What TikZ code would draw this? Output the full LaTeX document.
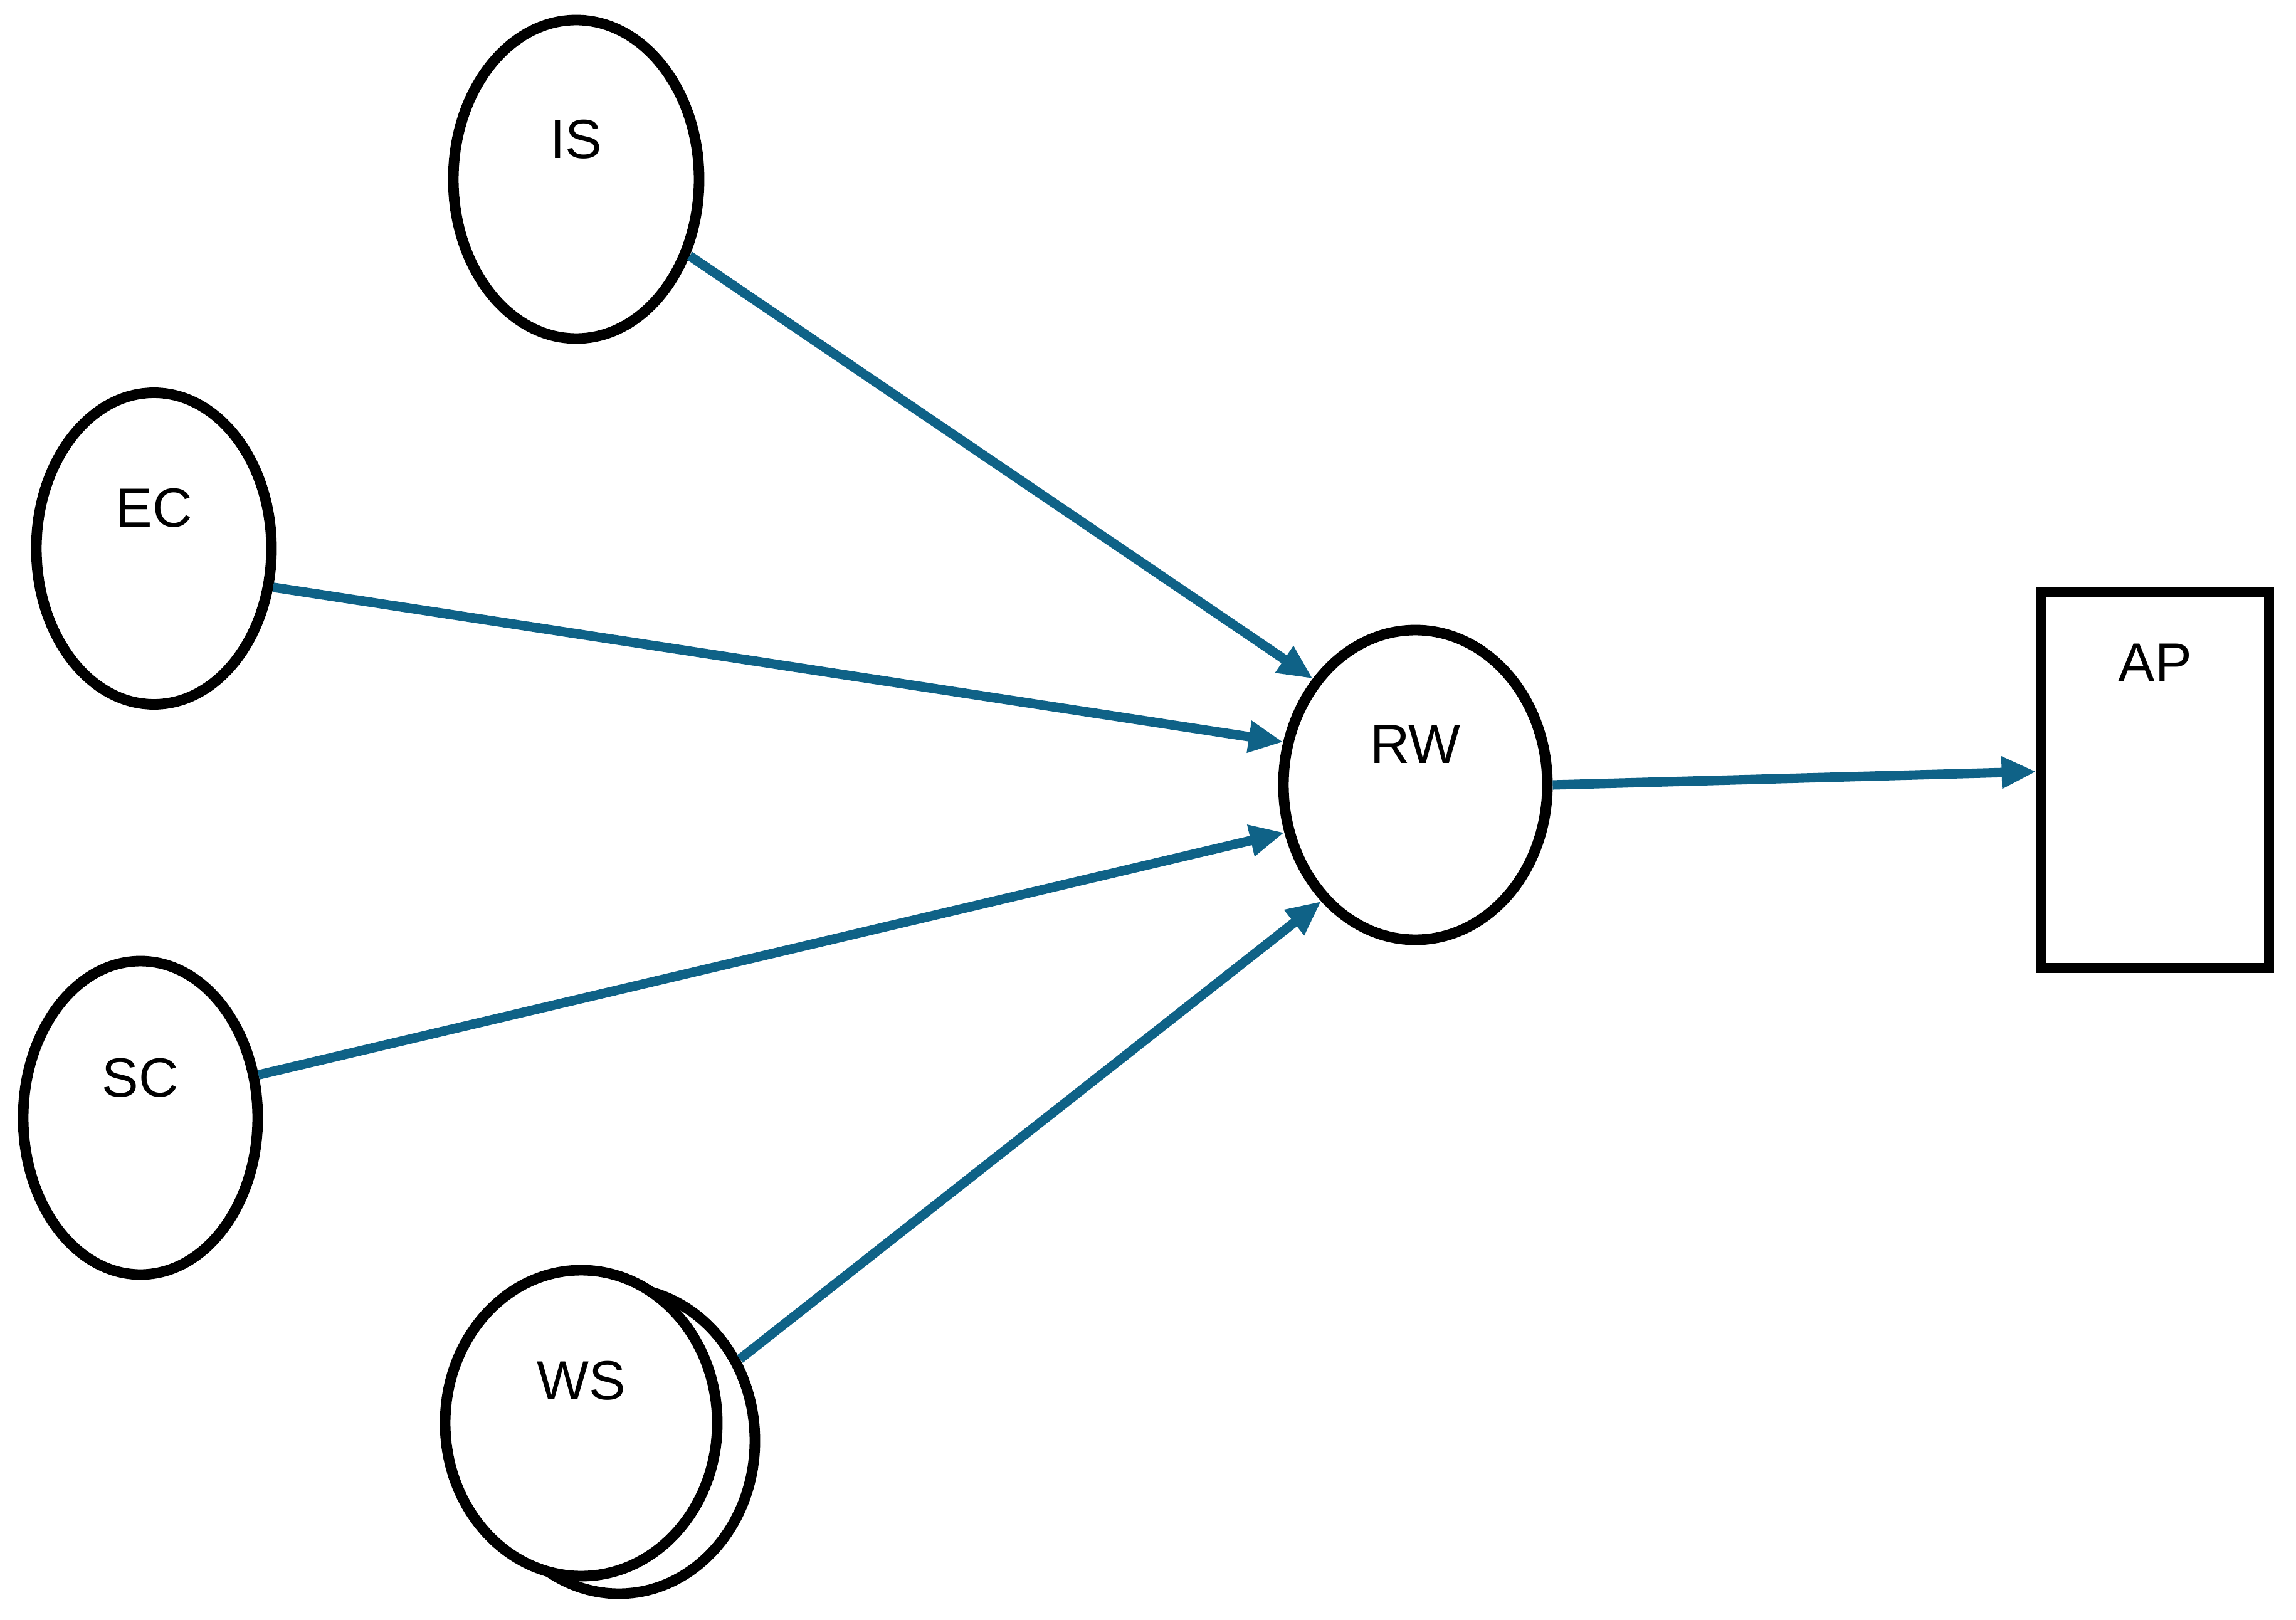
\documentclass[tikz,border=0pt]{standalone}
\usepackage{fontspec}
\setmainfont{Liberation Sans}
\usepackage{xcolor}
\usetikzlibrary{positioning,arrows.meta,shapes.geometric}

\definecolor{linkblue}{HTML}{0F6287}

\begin{document}
\begin{tikzpicture}[
  oval/.style={draw, ellipse, line width=4.8pt, fill=white, inner sep=0pt},
  boxnode/.style={draw, rectangle, line width=4.8pt, fill=white, inner sep=0pt},
  lbl/.style={font=\fontsize{25}{30}\selectfont, inner sep=0pt},
  link/.style={draw=linkblue, line width=4.3pt, -{Triangle[length=0.55cm,width=0.48cm]}, fill=linkblue}
]
\useasboundingbox (0,0) rectangle (36.62,-25.84);

% Sources
\node[oval, minimum width=3.92cm, minimum height=5.08cm] (is) at (9.19,-2.86) {};
\node[lbl] (is-t) at ([yshift=0.64cm]is.center) {IS};

\node[oval, minimum width=3.75cm, minimum height=4.97cm] (ec) at (2.455,-8.75) {};
\node[lbl] (ec-t) at ([yshift=0.65cm]ec.center) {EC};

\node[oval, minimum width=3.74cm, minimum height=5.00cm] (sc) at (2.24,-17.83) {};
\node[lbl] (sc-t) at ([yshift=0.64cm]sc.center) {SC};

\node[oval, minimum width=4.34cm, minimum height=4.88cm] (ws-back) at (9.87,-22.98) {};
\node[oval, minimum width=4.34cm, minimum height=4.88cm] (ws) at (9.27,-22.70) {};
\node[lbl] (ws-t) at ([yshift=0.68cm]ws.center) {WS};

% Hub and target
\node[oval, minimum width=4.21cm, minimum height=4.94cm] (rw) at (22.575,-12.52) {};
\node[lbl] (rw-t) at ([yshift=0.65cm]rw.center) {RW};

\node[boxnode, minimum width=3.63cm, minimum height=6.00cm] (ap) at (34.375,-12.44) {};
\node[lbl] (ap-t) at ([yshift=1.87cm]ap.center) {AP};

% Links
\draw[link] (is.-34) -- (rw.134);
\draw[link] (ec.-18.7) -- (rw.162.3);
\draw[link] (sc.20.7) -- (rw.200);
\draw[link] (ws-back.34.8) -- (rw.231.7);
\draw[link] (rw.east) -- (ap.176);

\end{tikzpicture}
\end{document}
